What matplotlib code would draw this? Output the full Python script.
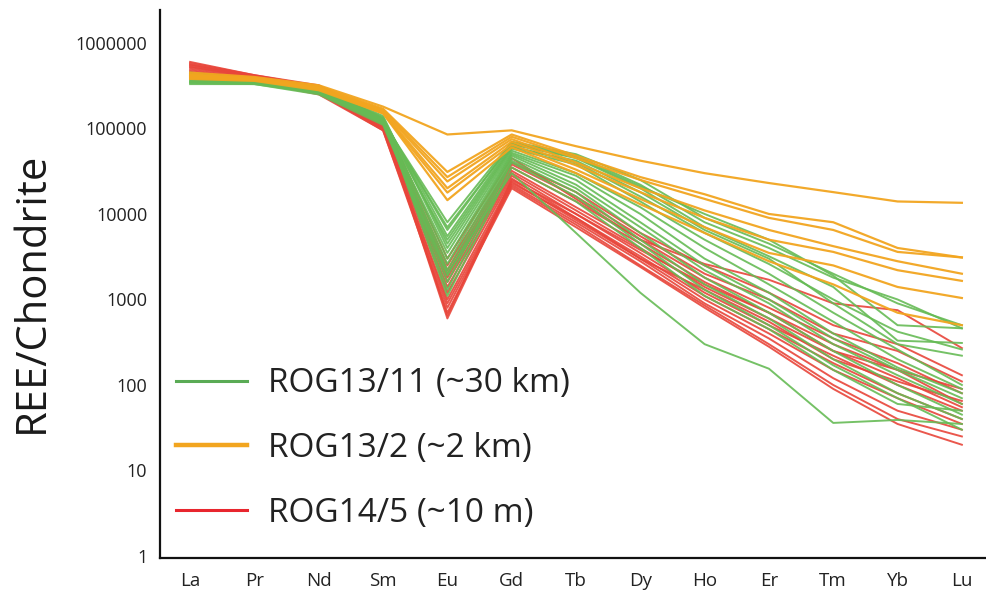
import matplotlib
matplotlib.use("Agg")
import matplotlib.pyplot as plt
from matplotlib.lines import Line2D
from matplotlib.ticker import FixedLocator, FixedFormatter

# REE pattern (chondrite normalised)
elements = ["La", "Pr", "Nd", "Sm", "Eu", "Gd", "Tb", "Dy", "Ho", "Er", "Tm", "Yb", "Lu"]

rog13_11 = [  # green, ~30 km
    [330000, 330000, 260000, 120000, 8000, 70000, 50000, 25000, 9000, 4500, 2000, 900, 500],
    [350000, 340000, 270000, 125000, 6500, 68000, 48000, 22000, 8000, 4000, 1800, 1000, 460],
    [380000, 350000, 280000, 130000, 5500, 65000, 45000, 20000, 7000, 3200, 1400, 330, 310],
    [400000, 360000, 270000, 115000, 5000, 62000, 40000, 16000, 6000, 2600, 1000, 420, 260],
    [420000, 370000, 290000, 135000, 4500, 60000, 42000, 18000, 6500, 3000, 900, 300, 220],
    [450000, 380000, 300000, 140000, 4000, 58000, 38000, 14000, 5000, 2000, 700, 260, 100],
    [360000, 340000, 260000, 120000, 3500, 55000, 30000, 12000, 4000, 1500, 550, 200, 90],
    [390000, 350000, 280000, 125000, 3000, 52000, 28000, 10000, 3000, 1200, 400, 160, 80],
    [410000, 360000, 270000, 115000, 2600, 50000, 25000, 8000, 2500, 1000, 350, 150, 70],
    [430000, 370000, 290000, 130000, 2200, 48000, 22000, 7000, 2200, 900, 300, 130, 60],
    [340000, 330000, 250000, 110000, 1900, 45000, 20000, 6000, 1800, 700, 250, 100, 45],
    [370000, 350000, 270000, 120000, 1600, 42000, 18000, 5000, 1500, 600, 200, 80, 40],
    [400000, 360000, 280000, 125000, 1300, 40000, 16000, 4500, 1300, 500, 170, 70, 30],
    [440000, 380000, 290000, 130000, 1100, 35000, 14000, 4000, 1100, 450, 150, 60, 50],
    [350000, 340000, 260000, 115000, 2000, 30000, 6000, 1200, 300, 155, 36, 39, 35],
    [380000, 350000, 270000, 120000, 7000, 66000, 46000, 21000, 10000, 5000, 1900, 500, 460],
]

rog13_2 = [  # orange, ~2 km
    [450000, 400000, 320000, 180000, 85000, 95000, 62000, 42000, 30000, 23000, 18000, 14000, 13500],
    [420000, 390000, 310000, 170000, 31000, 85000, 48000, 27000, 17000, 10000, 8000, 4000, 3100],
    [430000, 380000, 300000, 165000, 27000, 80000, 45000, 25000, 15000, 9000, 6500, 3600, 3100],
    [410000, 380000, 300000, 160000, 24000, 75000, 40000, 20000, 11000, 6500, 4200, 2800, 2000],
    [400000, 370000, 290000, 155000, 20000, 70000, 37000, 18000, 9000, 5000, 3600, 2200, 1650],
    [390000, 370000, 290000, 150000, 17800, 65000, 33000, 15000, 7000, 3500, 2500, 1400, 1040],
    [380000, 360000, 280000, 150000, 14500, 60000, 30000, 13000, 6000, 2800, 1500, 700, 500],
]

rog14_5 = [  # red, ~10 m
    [600000, 420000, 320000, 130000, 3000, 45000, 15000, 5000, 2600, 1700, 900, 750, 270],
    [580000, 420000, 310000, 125000, 2500, 40000, 18000, 6000, 2500, 1200, 500, 300, 130],
    [550000, 410000, 300000, 120000, 2200, 38000, 16000, 5500, 2000, 1000, 400, 250, 110],
    [520000, 400000, 300000, 115000, 2000, 35000, 14000, 5000, 1800, 800, 350, 180, 80],
    [500000, 390000, 290000, 110000, 1800, 32000, 12000, 4500, 1600, 700, 300, 150, 60],
    [480000, 380000, 280000, 110000, 1600, 30000, 11000, 4000, 1400, 600, 250, 120, 55],
    [460000, 380000, 280000, 105000, 1400, 28000, 10000, 3500, 1200, 500, 220, 100, 50],
    [450000, 370000, 270000, 105000, 1200, 26000, 9000, 3200, 1100, 450, 180, 80, 40],
    [430000, 360000, 270000, 100000, 1000, 24000, 8500, 3000, 1000, 400, 150, 70, 35],
    [420000, 360000, 260000, 100000, 900, 22000, 8000, 2800, 900, 350, 120, 50, 30],
    [400000, 350000, 260000, 95000, 800, 21000, 7500, 2500, 850, 300, 100, 40, 25],
    [390000, 350000, 250000, 95000, 700, 20000, 7000, 2400, 800, 280, 90, 35, 20],
    [560000, 410000, 300000, 120000, 650, 25000, 10000, 3800, 1500, 700, 250, 150, 90],
    [530000, 400000, 290000, 115000, 600, 23000, 9000, 3000, 1300, 550, 200, 110, 65],
]

labels = ["ROG13/11 (~30 km)", "ROG13/2 (~2 km)", "ROG14/5 (~10 m)"]
green = "#66bb55"
orange = "#f2a51f"
red = "#e8453a"

plt.rcParams["font.family"] = ["Open Sans", "DejaVu Sans"]

fig = plt.figure(figsize=(9.87, 5.97), dpi=100)
ax = fig.add_axes([0.162, 0.0653, 0.836, 0.918])

x = list(range(len(elements)))
for row in rog14_5:
    ax.plot(x, row, color=red, lw=1.4, alpha=0.9)
for row in rog13_11:
    ax.plot(x, row, color=green, lw=1.4, alpha=0.9)
for row in rog13_2:
    ax.plot(x, row, color=orange, lw=1.6, alpha=0.95)

ax.set_yscale("log")
ax.set_ylim(0.947, 2.43e6)
ax.set_xlim(-0.47, 12.36)

yt = [1, 10, 100, 1000, 10000, 100000, 1000000]
ax.yaxis.set_major_locator(FixedLocator(yt))
ax.yaxis.set_major_formatter(FixedFormatter([str(v) for v in yt]))
ax.yaxis.set_minor_locator(FixedLocator([]))
ax.set_xticks(x)
ax.set_xticklabels(elements)

ax.tick_params(axis="y", length=0, pad=9, labelsize=13, labelcolor="#222222")
ax.tick_params(axis="x", length=0, pad=10, labelsize=13.5, labelcolor="#222222")

for s in ["top", "right"]:
    ax.spines[s].set_visible(False)
for s in ["left", "bottom"]:
    ax.spines[s].set_linewidth(1.6)
    ax.spines[s].set_color("#111111")

ax.set_ylabel("REE/Chondrite", fontsize=30, color="#1a1a1a")
ax.yaxis.set_label_coords(-0.13, 0.485)

handles = [Line2D([], [], color="#5aab55", lw=2.2),
           Line2D([], [], color=orange, lw=3.2),
           Line2D([], [], color="#e8262e", lw=2.2)]
ax.legend(handles, labels, loc="center left", bbox_to_anchor=(0.003, 0.2),
          borderaxespad=0, frameon=False, fontsize=24, handlelength=2.15,
          handletextpad=0.63, labelspacing=0.95, labelcolor="#222222")

fig.savefig("out.png", dpi=100)
